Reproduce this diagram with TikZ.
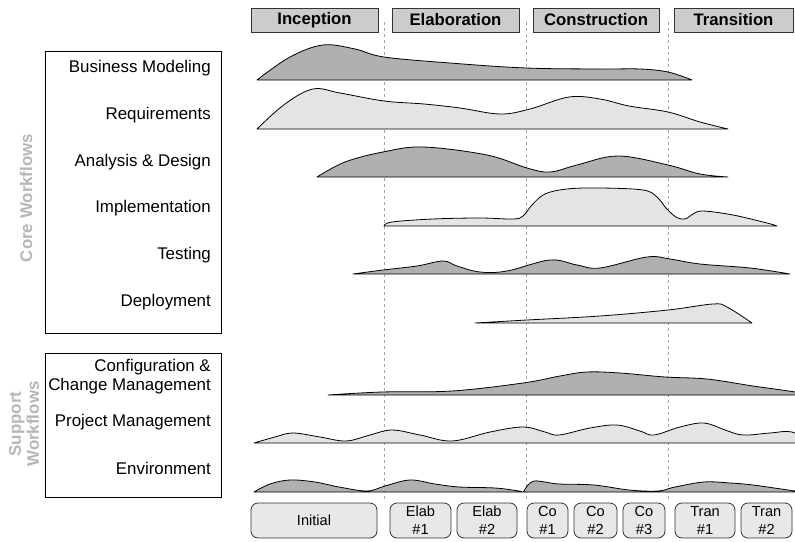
\documentclass[tikz,border=0pt]{standalone}
\usepackage{fontspec}
\setmainfont{Liberation Sans}
\definecolor{humpdark}{RGB}{176,176,176}
\definecolor{humplight}{RGB}{228,228,228}
\definecolor{phasegray}{RGB}{204,204,204}
\definecolor{iterfill}{RGB}{232,232,232}
\definecolor{flowgray}{RGB}{182,182,182}
\tikzset{
  hump/.style={
    line width=0.8pt,
    line join=round,
    draw=black
  },
  hump-dark/.style={hump, fill=humpdark},
  hump-light/.style={hump, fill=humplight},
  phase-box/.style={draw=black!80, fill=phasegray, line width=0.8pt, minimum height=24pt, inner sep=0pt,
    font=\fontsize{16.7}{19}\selectfont\bfseries},
  iter-box/.style={draw=black!80, fill=iterfill, line width=0.8pt, rounded corners=7pt, minimum height=35pt,
    inner sep=0pt, align=center, font=\fontsize{14.6}{18}\selectfont},
  flow-label/.style={anchor=east, inner sep=0pt, align=right, font=\fontsize{16.9}{19}\selectfont},
  flow-title/.style={rotate=90, text=flowgray, align=center, inner sep=0pt, font=\fontsize{16.9}{18}\selectfont\bfseries},
  phase-line/.style={dashed, draw=black!35, line width=0.8pt},
  frame/.style={draw=black, line width=0.8pt}
}

\begin{document}
\begin{tikzpicture}[x=1pt,y=-1pt]
  \useasboundingbox (0,0) rectangle (795,541);
  % Phase boundaries
  \coordinate (B1-top) at (384,22);
  \coordinate (B1-bot) at (384,500);
  \coordinate (B2-top) at (526,22);
  \coordinate (B2-bot) at (526,500);
  \coordinate (B3-top) at (668,22);
  \coordinate (B3-bot) at (668,500);
  \draw[phase-line] (B1-top) -- (B1-bot);
  \draw[phase-line] (B2-top) -- (B2-bot);
  \draw[phase-line] (B3-top) -- (B3-bot);

  % Phases
  \node[phase-box, minimum width=127pt] (Inception) at (314.5,20) {Inception};
  \node[phase-box, minimum width=127pt] (Elaboration) at (455.5,20) {Elaboration};
  \node[phase-box, minimum width=126pt] (Construction) at (596,20) {Construction};
  \node[phase-box, minimum width=119pt] (Transition) at (733.5,20) {Transition};

  % Workflow frames
  \draw[frame] (45,51) rectangle (221,333);
  \draw[frame] (45,353) rectangle (221,497);
  \node[flow-title] (Core) at (26,198) {Core Workflows};
  \node[flow-title] (Support) at (24,424) {Support\\Workflows};

  % Workflow names
  \node[flow-label] (BizMod) at (211,68) {Business Modeling};
  \node[flow-label] (Req) at (211,115) {Requirements};
  \node[flow-label] (AnDes) at (211,162) {Analysis \& Design};
  \node[flow-label] (Impl) at (211,208) {Implementation};
  \node[flow-label] (Test) at (211,255) {Testing};
  \node[flow-label] (Deploy) at (211,302) {Deployment};
  \node[flow-label] (ConfMgmt) at (211,377) {Configuration \&\\Change Management};
  \node[flow-label] (ProjMgmt) at (211,422) {Project Management};
  \node[flow-label] (Env) at (211,468) {Environment};

  % Humps
  \draw[hump-dark] plot[smooth, tension=0.6] coordinates {(257,80) (290,57) (323,45) (355,49) (384,57)
    (450,63) (526,68) (600,69) (640,69) (668,72) (692,80)} -- cycle;
  \draw[hump-light] plot[smooth, tension=0.6] coordinates {(257,129) (285,104) (313,89) (340,93) (384,101)
    (424,104) (460,108) (500,114) (530,109) (569,97) (600,99) (629,106) (668,112) (700,122) (728,129)} -- cycle;
  \draw[hump-dark] plot[smooth, tension=0.6] coordinates {(317,177) (345,162) (383,152) (423,147) (487,155)
    (527,168) (550,172) (577,165) (618,156) (668,165) (700,174) (728,177)} -- cycle;
  \draw[hump-light] plot[smooth, tension=0.6] coordinates {(384,226) (392,222) (433,219) (480,218) (513,219)
    (523,216) (532,205) (545,194) (567,189) (600,188) (643,190) (657,197) (666,208) (676,217) (685,219)
    (693,214) (703,211) (733,215) (767,223) (777,226)} -- cycle;
  \draw[hump-dark] plot[smooth, tension=0.6] coordinates {(353,274) (383,270) (417,266) (443,261) (457,266)
    (480,272) (507,271) (550,260) (577,265) (600,268) (647,257) (670,259) (700,264) (750,268) (790,274)} -- cycle;
  \draw[hump-light] plot[smooth, tension=0.6] coordinates {(475,323) (527,320) (600,316) (668,310) (713,304)
    (727,307) (752,323)} -- cycle;
  \draw[hump-dark] plot[smooth, tension=0.6] coordinates {(328,395) (382,392) (452,391) (523,383) (560,376)
    (587,372) (620,373) (665,377) (707,379) (753,386) (795,392) (805,395)} -- cycle;
  \draw[hump-light] plot[smooth, tension=0.6] coordinates {(254,443) (275,437) (293,433) (320,437) (346,441)
    (370,435) (392,430) (420,435) (452,441) (490,432) (523,427) (545,432) (559,435) (590,428) (617,425)
    (640,431) (654,435) (680,427) (704,423) (725,430) (743,435) (770,433) (792,432) (810,443)} -- cycle;
  \draw[hump-dark] plot[smooth, tension=0.6] coordinates {(254,492) (270,484) (290,480) (315,482) (339,487)
    (367,491) (385,486) (410,480) (435,484) (459,487) (495,488) (519,491) (523,492) (528,485) (534,481)
    (545,482) (559,484) (594,485) (629,490) (658,491) (675,487) (704,482) (730,483) (753,485) (795,491)
    (805,492)} -- cycle;

  % Iterations
  \node[iter-box, minimum width=126pt] (Initial) at (314,520.5) {Initial};
  \node[iter-box, minimum width=61pt] (Elab1) at (420.5,520.5) {Elab\\\#1};
  \node[iter-box, minimum width=60pt] (Elab2) at (487,520.5) {Elab\\\#2};
  \node[iter-box, minimum width=41pt] (Co1) at (547.5,520.5) {Co\\\#1};
  \node[iter-box, minimum width=43pt] (Co2) at (595.5,520.5) {Co\\\#2};
  \node[iter-box, minimum width=42pt] (Co3) at (644,520.5) {Co\\\#3};
  \node[iter-box, minimum width=60pt] (Tran1) at (705,520.5) {Tran\\\#1};
  \node[iter-box, minimum width=51pt] (Tran2) at (766.5,520.5) {Tran\\\#2};
\end{tikzpicture}
\end{document}
